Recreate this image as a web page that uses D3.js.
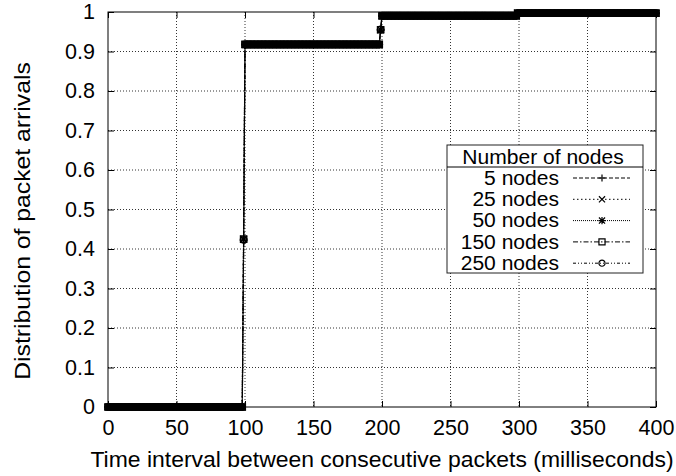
<!DOCTYPE html>
<html>
<head>
<meta charset="utf-8">
<script src="https://cdn.jsdelivr.net/npm/d3@7"></script>
<style>
  html, body { margin: 0; padding: 0; background: #fff; }
  svg { display: block; }
  text { font-family: "Liberation Sans", Arial, Helvetica, sans-serif; fill: #000; }
</style>
</head>
<body>
<svg id="chart" width="676" height="476"></svg>
<script>
// ---------------- DATA ----------------
// Each series: runs of consecutive 1-ms samples sharing the same CDF value: [fromMs, toMs, value]
const seriesNames = ["5 nodes", "25 nodes", "50 nodes", "150 nodes", "250 nodes"];
const runs5   = [[0, 98, 0], [99, 99, 0.422], [100, 198, 0.918], [199, 199, 0.954], [200, 298, 0.990], [299, 400, 0.997]];
const runs25  = [[0, 98, 0], [99, 99, 0.424], [100, 198, 0.918], [199, 199, 0.955], [200, 298, 0.990], [299, 400, 0.997]];
const runs50  = [[0, 98, 0], [99, 99, 0.425], [100, 198, 0.917], [199, 199, 0.955], [200, 298, 0.990], [299, 400, 0.997]];
const runs150 = [[0, 98, 0], [99, 99, 0.425], [100, 198, 0.918], [199, 199, 0.955], [200, 298, 0.990], [299, 400, 0.997]];
const runs250 = [[0, 98, 0], [99, 99, 0.423], [100, 198, 0.918], [199, 199, 0.956], [200, 298, 0.991], [299, 400, 0.997]];
const seriesRuns = [runs5, runs25, runs50, runs150, runs250];
const xTicks = [0, 50, 100, 150, 200, 250, 300, 350, 400];
const yTicks = [0, 0.1, 0.2, 0.3, 0.4, 0.5, 0.6, 0.7, 0.8, 0.9, 1];
const xTitle = "Time interval between consecutive packets (milliseconds)";
const yTitle = "Distribution of packet arrivals";
const legendTitle = "Number of nodes";

// ---------------- STYLES ----------------
const dashes = ["4,2", "1.5,2.5", "1,1", "5,2,1.5,2", "3,2,1,2,1,2"];
const markerTypes = ["plus", "cross", "star", "square", "circle"];

const svg = d3.select("#chart");
const L = 108, R = 656, T = 12, B = 407;
const x = d3.scaleLinear().domain([0, 400]).range([L, R]);
const y = d3.scaleLinear().domain([0, 1]).range([B, T]);
const FS = 21.5;   // tick labels
const FL = 19.5;   // legend
const FT = 22.5;   // titles

function markerPath(type, cx, cy, s) {
  const p = d3.path();
  if (type === "plus" || type === "star") {
    p.moveTo(cx - s, cy); p.lineTo(cx + s, cy);
    p.moveTo(cx, cy - s); p.lineTo(cx, cy + s);
  }
  if (type === "cross" || type === "star") {
    const d = s * 0.85;
    p.moveTo(cx - d, cy - d); p.lineTo(cx + d, cy + d);
    p.moveTo(cx - d, cy + d); p.lineTo(cx + d, cy - d);
  }
  if (type === "square") {
    p.rect(cx - s * 0.85, cy - s * 0.85, s * 1.7, s * 1.7);
  }
  if (type === "circle") {
    p.moveTo(cx + s * 0.85, cy);
    p.arc(cx, cy, s * 0.85, 0, 2 * Math.PI);
  }
  return p.toString();
}

// grid
const grid = svg.append("g");
xTicks.slice(1, -1).forEach(v => {
  grid.append("line").attr("x1", x(v)).attr("x2", x(v)).attr("y1", T).attr("y2", B)
    .attr("stroke", "#333").attr("stroke-width", 1).attr("stroke-dasharray", "1,2");
});
yTicks.slice(1, -1).forEach(v => {
  grid.append("line").attr("x1", L).attr("x2", R).attr("y1", y(v)).attr("y2", y(v))
    .attr("stroke", "#333").attr("stroke-width", 1).attr("stroke-dasharray", "1,2");
});

// axes
const fmtY = d => (d === 0 ? "0" : d === 1 ? "1" : d3.format(".1f")(d));
const gx = svg.append("g").attr("transform", `translate(0,${B})`)
  .call(d3.axisBottom(x).tickValues(xTicks).tickSizeInner(-6).tickSizeOuter(0).tickPadding(13).tickFormat(d3.format("d")));
const gy = svg.append("g").attr("transform", `translate(${L},0)`)
  .call(d3.axisLeft(y).tickValues(yTicks).tickSizeInner(-6).tickSizeOuter(0).tickPadding(13).tickFormat(fmtY));
const gxt = svg.append("g").attr("transform", `translate(0,${T})`)
  .call(d3.axisTop(x).tickValues(xTicks).tickSizeInner(-6).tickSizeOuter(0).tickFormat(""));
const gyr = svg.append("g").attr("transform", `translate(${R},0)`)
  .call(d3.axisRight(y).tickValues(yTicks).tickSizeInner(-6).tickSizeOuter(0).tickFormat(""));
[gx, gy, gxt, gyr].forEach(g => {
  g.select(".domain").remove();
  g.selectAll("line").attr("stroke", "#000");
  g.selectAll("text").attr("font-size", FS).attr("font-family", "Liberation Sans, Arial, sans-serif").attr("fill", "#000");
});

// border
svg.append("rect").attr("x", L).attr("y", T).attr("width", R - L).attr("height", B - T)
  .attr("fill", "none").attr("stroke", "#000").attr("stroke-width", 1);

// series
const line = d3.line().x(d => x(d[0])).y(d => y(d[1]));
seriesRuns.forEach((runs, i) => {
  const pts = [];
  runs.forEach(([a, b, v]) => { for (let t = a; t <= b; t++) pts.push([t, v]); });
  const g = svg.append("g");
  g.append("path").attr("d", line(pts)).attr("fill", "none").attr("stroke", "#000")
    .attr("stroke-width", 1.2).attr("stroke-dasharray", dashes[i]);
  g.append("path").attr("d", pts.map(p => markerPath(markerTypes[i], x(p[0]), y(p[1]), 3.8)).join(""))
    .attr("fill", "none").attr("stroke", "#000").attr("stroke-width", 1.2);
});

// legend
const lg = svg.append("g");
const lx = 447, ly = 145, lw = 196, lh = 128;
lg.append("rect").attr("x", lx).attr("y", ly).attr("width", lw).attr("height", lh)
  .attr("fill", "#fff").attr("stroke", "#222").attr("stroke-width", 1);
lg.append("line").attr("x1", lx).attr("x2", lx + lw).attr("y1", 167).attr("y2", 167)
  .attr("stroke", "#000").attr("stroke-width", 1);
lg.append("text").attr("transform", `translate(${lx + lw / 2 - 2},157) scale(1.08,1)`)
  .attr("text-anchor", "middle")
  .attr("dominant-baseline", "central").attr("font-size", FL).text(legendTitle);
seriesNames.forEach((name, i) => {
  const ry = 178 + 21.3 * i;
  lg.append("text").attr("transform", `translate(559,${ry}) scale(1.08,1)`).attr("text-anchor", "end")
    .attr("dominant-baseline", "central").attr("font-size", FL).text(name);
  lg.append("line").attr("x1", 573).attr("x2", 630).attr("y1", ry).attr("y2", ry)
    .attr("stroke", "#000").attr("stroke-width", 1).attr("stroke-dasharray", dashes[i]);
  lg.append("path").attr("d", markerPath(markerTypes[i], 602, ry, 3.6))
    .attr("fill", "none").attr("stroke", "#000").attr("stroke-width", 1.2);
});

// titles
svg.append("text").attr("transform", `translate(${(L + R) / 2},467) scale(1.02,1)`)
  .attr("text-anchor", "middle")
  .attr("font-size", FT).text(xTitle);
svg.append("text").attr("transform", `translate(22,221) rotate(-90) scale(1.1,1)`)
  .attr("text-anchor", "middle").attr("dominant-baseline", "central")
  .attr("font-size", FT).text(yTitle);
</script>
</body>
</html>
